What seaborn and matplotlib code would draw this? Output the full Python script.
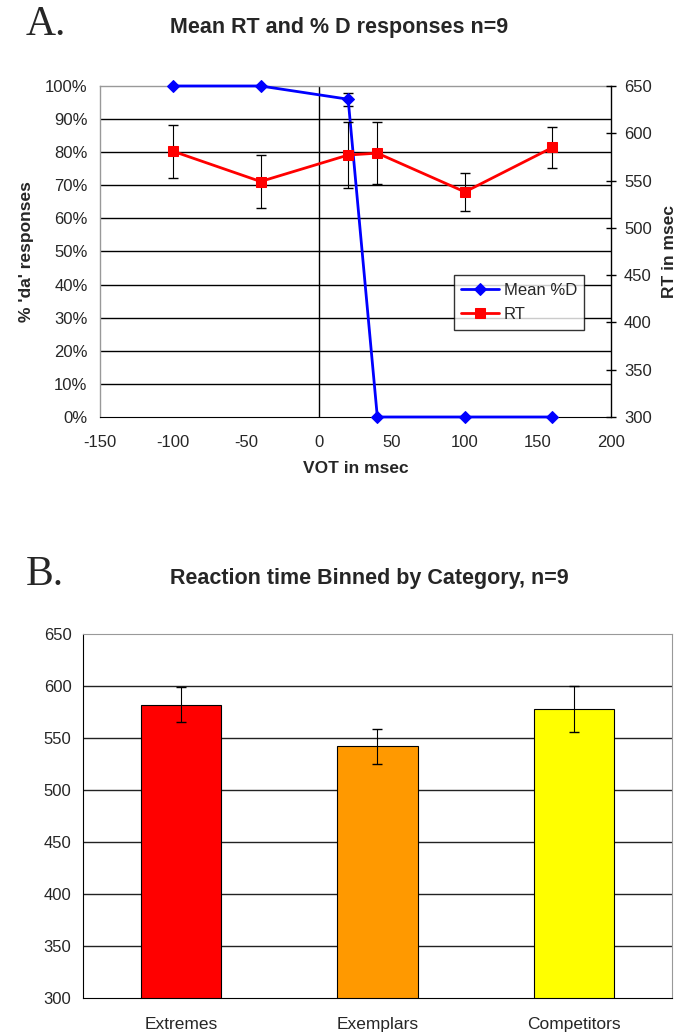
import matplotlib
matplotlib.use('Agg')
import matplotlib.pyplot as plt
import seaborn as sns
import pandas as pd
from matplotlib.ticker import FuncFormatter

# panel A data
vot = [-100, -40, 20, 40, 100, 160]
pct_d = [100, 100, 96, 0, 0, 0]
pct_d_err = [0, 0, 2, 0, 0, 0]
rt = [581, 549, 577, 579, 538, 585]
rt_err = [28, 28, 35, 33, 20, 22]

# panel B data
categories = ['Extremes', 'Exemplars', 'Competitors']
cat_rt = [582, 542, 578]
cat_err = [17, 17, 22]
bar_colors = ['#FF0000', '#FF9900', '#FFFF00']

sns.set_style('white')
plt.rcParams['font.family'] = ['Liberation Sans', 'DejaVu Sans']
plt.rcParams['axes.unicode_minus'] = False

fig = plt.figure(figsize=(6.78, 10.36), dpi=100)

# ---------- panel A ----------
ax1 = fig.add_axes([0.1475, 0.5975, 0.7535, 0.3195])
df_a = pd.DataFrame({'vot': vot, 'pct': pct_d, 'rt': rt})

ax1.set_xlim(-150, 200)
ax1.set_ylim(0, 100)
for yv in range(10, 100, 10):
    ax1.axhline(yv, color='black', lw=1, zorder=0)
ax1.axvline(0, color='black', lw=1, zorder=0)

sns.lineplot(data=df_a, x='vot', y='pct', ax=ax1, color='#0000FF', marker='D',
             markersize=6, markeredgecolor='#0000FF', linewidth=2, label='Mean %D',
             legend=False, zorder=3, clip_on=False)
ax1.errorbar(vot, pct_d, yerr=pct_d_err, fmt='none', ecolor='black', elinewidth=0.8,
             capsize=3.5, zorder=2)

ax1.set_xticks(range(-150, 201, 50))
ax1.set_yticks(range(0, 101, 10))
ax1.yaxis.set_major_formatter(FuncFormatter(lambda v, p: f'{int(v)}%'))
ax1.tick_params(axis='x', direction='out', length=5, width=1, color='black', labelsize=12, pad=8)
ax1.tick_params(axis='y', length=0, labelsize=12, pad=9)
ax1.set_xlabel('VOT in msec', fontsize=12.5, fontweight='bold', labelpad=8)
ax1.set_ylabel("% 'da' responses", fontsize=12.5, fontweight='bold', labelpad=8)
for s in ['left', 'top']:
    ax1.spines[s].set_color('#999999')
    ax1.spines[s].set_linewidth(1)
ax1.spines['bottom'].set_color('black')
ax1.spines['right'].set_visible(False)

ax2 = ax1.twinx()
ax2.set_ylim(300, 650)
sns.lineplot(data=df_a, x='vot', y='rt', ax=ax2, color='#FF0000', marker='s',
             markersize=7.5, markeredgecolor='#FF0000', linewidth=2, label='RT',
             legend=False, zorder=3)
ax2.errorbar(vot, rt, yerr=rt_err, fmt='none', ecolor='black', elinewidth=0.8,
             capsize=3.5, zorder=2)
ax2.set_yticks(range(300, 651, 50))
ax2.tick_params(axis='y', direction='inout', length=7, width=1, color='black', labelsize=12, pad=6)
ax2.set_ylabel('RT in msec', fontsize=12.5, fontweight='bold', labelpad=7)
ax2.spines['right'].set_color('black')
ax2.spines['right'].set_linewidth(1)
for s in ['left', 'top', 'bottom']:
    ax2.spines[s].set_visible(False)
ax2.set_xlabel('')

h1, l1 = ax1.get_legend_handles_labels()
h2, l2 = ax2.get_legend_handles_labels()
leg = ax2.legend(h1 + h2, l1 + l2, loc='center', bbox_to_anchor=(0.82, 0.346),
                 fontsize=12, frameon=True, fancybox=False, edgecolor='black',
                 handlelength=2.3, borderpad=0.45, labelspacing=0.55, handletextpad=0.25,
                 borderaxespad=0)
leg.get_frame().set_linewidth(1)

fig.text(0.5, 0.968, 'Mean RT and % D responses n=9', ha='center', va='baseline',
         fontsize=15.5, fontweight='bold')
fig.text(0.038, 0.9662, 'A.', ha='left', va='baseline', fontsize=30,
         family=['Liberation Serif', 'DejaVu Serif'])

# ---------- panel B ----------
ax3 = fig.add_axes([0.1224, 0.0367, 0.8686, 0.3513])
df_b = pd.DataFrame({'cat': categories, 'rt': cat_rt})
for yv in range(350, 650, 50):
    ax3.axhline(yv, color='#222222', lw=1, zorder=0)
sns.barplot(data=df_b, x='cat', y='rt', hue='cat', palette=bar_colors, saturation=1,
            ax=ax3, width=0.41, edgecolor='black', linewidth=0.8, errorbar=None,
            legend=False, zorder=2)
ax3.errorbar(range(len(categories)), cat_rt, yerr=cat_err, fmt='none', ecolor='black',
             elinewidth=0.8, capsize=3.5, zorder=3)
ax3.set_ylim(300, 650)
ax3.set_xlim(-0.5, 2.5)
ax3.set_yticks(range(300, 651, 50))
ax3.set_xticks([0, 1, 2])
ax3.set_xticklabels(categories)
ax3.tick_params(axis='x', length=0, labelsize=12.5, pad=14)
ax3.tick_params(axis='y', direction='out', length=4.3, width=1, color='black', labelsize=12, pad=4)
ax3.set_xticks([-0.5, 0.5, 1.5, 2.5], minor=True)
ax3.tick_params(axis='x', which='minor', direction='out', length=5, width=1, color='black')
ax3.set_xlabel('')
ax3.set_ylabel('')
ax3.spines['left'].set_color('black')
ax3.spines['bottom'].set_color('black')
for s in ['top', 'right']:
    ax3.spines[s].set_color('#999999')

fig.text(0.545, 0.4363, 'Reaction time Binned by Category, n=9', ha='center', va='baseline',
         fontsize=15.5, fontweight='bold')
fig.text(0.038, 0.4353, 'B.', ha='left', va='baseline', fontsize=30,
         family=['Liberation Serif', 'DejaVu Serif'])

fig.savefig('out.png', dpi=100)
